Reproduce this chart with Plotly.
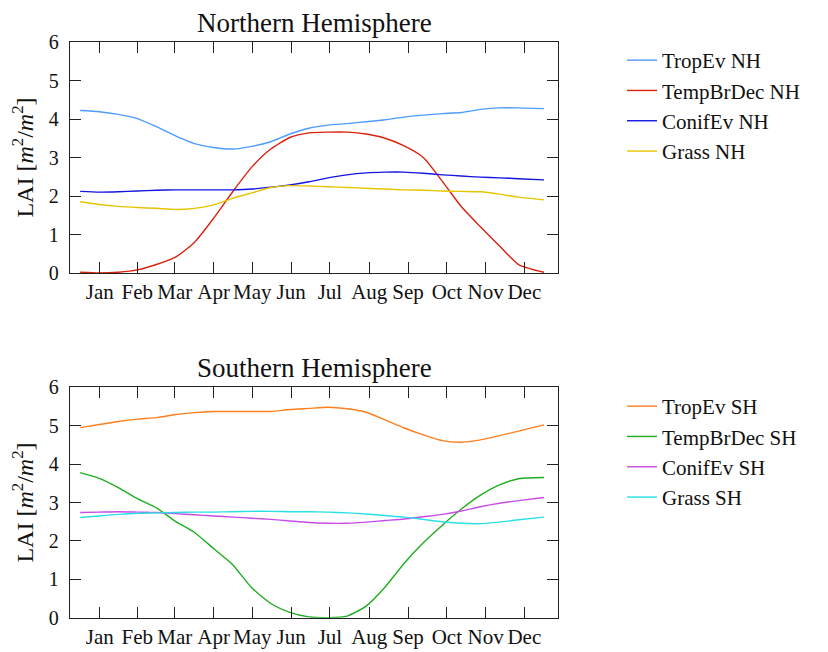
import plotly.graph_objects as go

# Day of year positions where values were read
days = [0, 15, 30, 45, 60, 75, 90, 105, 120, 135, 150, 165, 180,
        195, 210, 225, 240, 255, 270, 285, 300, 315, 330, 345, 365]

# Northern Hemisphere LAI
tropev_nh = [4.22, 4.19, 4.12, 4.01, 3.80, 3.56, 3.36, 3.26, 3.22, 3.29, 3.41, 3.61, 3.76,
             3.84, 3.88, 3.93, 3.98, 4.05, 4.10, 4.14, 4.17, 4.25, 4.29, 4.29, 4.27]
tempbrdec_nh = [0.02, 0.00, 0.02, 0.08, 0.22, 0.41, 0.80, 1.42, 2.11, 2.75, 3.22, 3.52, 3.64,
                3.66, 3.66, 3.61, 3.50, 3.30, 3.00, 2.38, 1.72, 1.20, 0.70, 0.22, 0.02]
conifev_nh = [2.12, 2.10, 2.11, 2.13, 2.15, 2.16, 2.16, 2.16, 2.16, 2.18, 2.23, 2.29, 2.37,
              2.47, 2.55, 2.60, 2.62, 2.62, 2.59, 2.55, 2.52, 2.49, 2.47, 2.45, 2.42]
grass_nh = [1.85, 1.78, 1.73, 1.70, 1.68, 1.65, 1.68, 1.77, 1.94, 2.08, 2.22, 2.27, 2.26,
            2.24, 2.22, 2.20, 2.18, 2.16, 2.15, 2.13, 2.12, 2.11, 2.05, 1.97, 1.90]

# Southern Hemisphere LAI
tropev_sh = [4.95, 5.03, 5.11, 5.17, 5.21, 5.29, 5.34, 5.37, 5.37, 5.37, 5.37, 5.42, 5.45,
             5.48, 5.44, 5.35, 5.15, 4.94, 4.76, 4.61, 4.57, 4.63, 4.74, 4.86, 5.02]
tempbrdec_sh = [3.78, 3.63, 3.39, 3.10, 2.86, 2.51, 2.22, 1.80, 1.38, 0.78, 0.37, 0.14, 0.02,
                0.00, 0.04, 0.30, 0.80, 1.42, 1.95, 2.41, 2.83, 3.19, 3.46, 3.62, 3.65]
conifev_sh = [2.74, 2.75, 2.76, 2.75, 2.74, 2.71, 2.68, 2.65, 2.62, 2.59, 2.56, 2.52, 2.48,
              2.46, 2.46, 2.49, 2.53, 2.57, 2.63, 2.69, 2.78, 2.89, 2.98, 3.05, 3.13]
grass_sh = [2.61, 2.65, 2.69, 2.72, 2.73, 2.74, 2.75, 2.75, 2.76, 2.77, 2.77, 2.76, 2.76,
            2.75, 2.73, 2.70, 2.66, 2.62, 2.56, 2.50, 2.46, 2.45, 2.49, 2.55, 2.62]

# Month ticks (mid-month, day of year)
month_ticks = [15.5, 45, 74.5, 105, 135.5, 166, 196.5, 227.5, 258, 288.5, 319, 349.5]
month_labels = ["Jan", "Feb", "Mar", "Apr", "May", "Jun",
                "Jul", "Aug", "Sep", "Oct", "Nov", "Dec"]

nh_series = [("TropEv NH", tropev_nh, "#4f9cff"),
             ("TempBrDec NH", tempbrdec_nh, "#d9230f"),
             ("ConifEv NH", conifev_nh, "#1515e0"),
             ("Grass NH", grass_nh, "#e8c400")]
sh_series = [("TropEv SH", tropev_sh, "#ff7f1e"),
             ("TempBrDec SH", tempbrdec_sh, "#1fae1f"),
             ("ConifEv SH", conifev_sh, "#c84be8"),
             ("Grass SH", grass_sh, "#2ae0e6")]

FONT = "Liberation Serif"

fig = go.Figure()
for name, vals, col in nh_series:
    fig.add_trace(go.Scatter(x=days, y=vals, mode="lines", name=name,
                             line=dict(color=col, width=1.4, shape="spline", smoothing=0.6),
                             xaxis="x", yaxis="y", legend="legend"))
for name, vals, col in sh_series:
    fig.add_trace(go.Scatter(x=days, y=vals, mode="lines", name=name,
                             line=dict(color=col, width=1.4, shape="spline", smoothing=0.6),
                             xaxis="x2", yaxis="y2", legend="legend2"))

# page body has an 8px margin: figure is 820x644 so it fits the 828x652 window
W, H = 820, 644
OFF = 8


def px_x(v):
    return (v - OFF) / W


def px_y(v):
    return 1 - (v - OFF) / H


xdom = [px_x(70), px_x(558)]
top_dom = [px_y(273), px_y(42)]
bot_dom = [px_y(617.7), px_y(387.3)]

xcommon = dict(range=[-8, 376], tickmode="array", tickvals=month_ticks, ticktext=month_labels,
               ticks="inside", ticklen=11, tickwidth=1.3, tickcolor="#222",
               showline=True, linecolor="#222", linewidth=1.3, mirror="ticks",
               showgrid=False, zeroline=False, domain=xdom, automargin=False,
               tickfont=dict(family=FONT, size=21, color="#111"), ticklabelstandoff=0)
ycommon = dict(range=[0, 6], dtick=1, ticks="inside", ticklen=11, tickwidth=1.3, tickcolor="#222",
               showline=True, linecolor="#222", linewidth=1.3, mirror="ticks",
               showgrid=False, zeroline=False, automargin=False,
               tickfont=dict(family=FONT, size=20, color="#111"), ticklabelstandoff=6,
               title=dict(text="LAI [<i>m</i><sup>2</sup>/<i>m</i><sup>2</sup>]",
                          font=dict(family=FONT, size=24, color="#111"), standoff=10))

fig.update_layout(
    width=W, height=H, margin=dict(l=0, r=0, t=0, b=0, autoexpand=False),
    paper_bgcolor="white", plot_bgcolor="white",
    xaxis=dict(**xcommon, anchor="y"),
    yaxis=dict(**ycommon, domain=top_dom, anchor="x"),
    xaxis2=dict(**xcommon, anchor="y2"),
    yaxis2=dict(**ycommon, domain=bot_dom, anchor="x2"),
    legend=dict(x=px_x(622), y=px_y(40), xanchor="left", yanchor="top",
                font=dict(family=FONT, size=21, color="#111"), tracegroupgap=0,
                bgcolor="rgba(0,0,0,0)"),
    legend2=dict(x=px_x(622), y=px_y(386), xanchor="left", yanchor="top",
                 font=dict(family=FONT, size=21, color="#111"), tracegroupgap=0,
                 bgcolor="rgba(0,0,0,0)"),
    annotations=[
        dict(text="Northern Hemisphere", x=px_x(314), y=px_y(23), xref="paper", yref="paper",
             xanchor="center", yanchor="middle", showarrow=False,
             font=dict(family=FONT, size=27, color="#111")),
        dict(text="Southern Hemisphere", x=px_x(314), y=px_y(368), xref="paper", yref="paper",
             xanchor="center", yanchor="middle", showarrow=False,
             font=dict(family=FONT, size=27, color="#111")),
    ],
)

fig.write_html("out.html")
